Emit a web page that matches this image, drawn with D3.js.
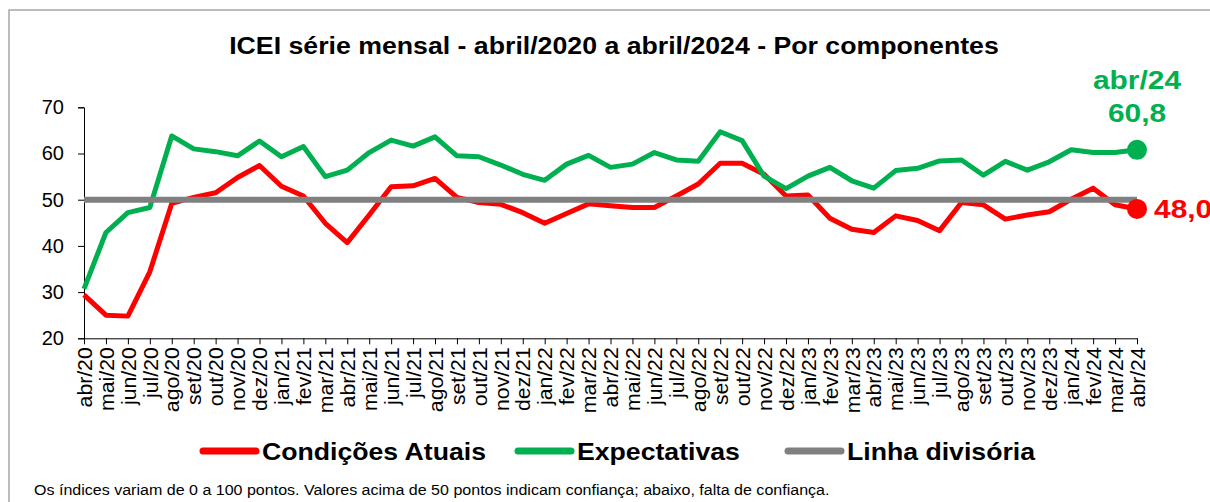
<!DOCTYPE html>
<html>
<head>
<meta charset="utf-8">
<script src="https://cdn.jsdelivr.net/npm/d3@7"></script>
<style>
  body { margin: 0; background: #fff; }
  svg { display: block; font-family: "Liberation Sans", Arial, sans-serif; }
</style>
</head>
<body>
<svg id="chart" width="1210" height="502"></svg>
<script>
const months = [
  "abr/20", "mai/20", "jun/20", "jul/20", "ago/20", "set/20", "out/20", "nov/20", "dez/20",
  "jan/21", "fev/21", "mar/21", "abr/21", "mai/21", "jun/21", "jul/21", "ago/21", "set/21", "out/21", "nov/21", "dez/21",
  "jan/22", "fev/22", "mar/22", "abr/22", "mai/22", "jun/22", "jul/22", "ago/22", "set/22", "out/22", "nov/22", "dez/22",
  "jan/23", "fev/23", "mar/23", "abr/23", "mai/23", "jun/23", "jul/23", "ago/23", "set/23", "out/23", "nov/23", "dez/23",
  "jan/24", "fev/24", "mar/24", "abr/24"
];

const condicoes = [
  29.4, 25.0, 24.8, 34.4, 49.2, 50.5, 51.5, 54.8, 57.4,
  52.9, 50.8, 44.9, 40.7, 46.7, 52.8, 53.0, 54.6, 50.5, 49.4, 49.0, 47.2,
  44.9, 47.0, 49.1, 48.7, 48.3, 48.3, 50.8, 53.4, 57.9, 57.9, 55.5, 50.8,
  51.0, 46.0, 43.6, 42.9, 46.5, 45.5, 43.3, 49.4, 48.9, 45.8, 46.7, 47.4,
  50.1, 52.5, 48.9, 48.0
];

const expectativas = [
  30.7, 42.9, 47.2, 48.3, 63.8, 61.0, 60.4, 59.5, 62.7,
  59.3, 61.5, 55.0, 56.4, 60.2, 62.9, 61.6, 63.6, 59.5, 59.3, 57.5, 55.5,
  54.2, 57.7, 59.6, 57.0, 57.7, 60.2, 58.6, 58.3, 64.7, 62.8, 55.1, 52.4,
  55.1, 57.0, 54.1, 52.5, 56.3, 56.8, 58.4, 58.6, 55.3, 58.3, 56.4, 58.2,
  60.8, 60.2, 60.2, 60.8
];

const divisoria = months.map(() => 50);

const yTicks = [20, 30, 40, 50, 60, 70];

const legendNames = ["Condições Atuais", "Expectativas", "Linha divisória"];
const colors = ["#ff0000", "#00b050", "#808080"];

const svg = d3.select("#chart");

// the original image is a bit wider than tall, so text is stretched sideways
function stretch(sel, f) {
  sel.each(function () {
    const w = this.getComputedTextLength();
    d3.select(this).attr("textLength", w * f).attr("lengthAdjust", "spacingAndGlyphs");
  });
  return sel;
}

// frame
svg.append("rect")
  .attr("x", 9).attr("y", 10)
  .attr("width", 1220).attr("height", 510)
  .attr("fill", "none")
  .attr("stroke", "#a6a6a6")
  .attr("stroke-width", 1.5);

svg.append("text")
  .attr("x", 614).attr("y", 54)
  .attr("text-anchor", "middle")
  .attr("font-size", 23)
  .attr("font-weight", "bold")
  .text("ICEI série mensal - abril/2020 a abril/2024 - Por componentes")
  .call(stretch, 1.16);

const x = d3.scalePoint()
  .domain(months)
  .range([84, 1137]);

const y = d3.scaleLinear()
  .domain([20, 70])
  .range([338.3, 107.3]);

// y axis
const yAxis = svg.append("g")
  .attr("transform", "translate(84,0)")
  .call(d3.axisLeft(y).tickValues(yTicks).tickSize(6).tickPadding(14));
yAxis.select(".domain").attr("stroke", "#000");
yAxis.selectAll("text").attr("font-size", 20).attr("font-family", "Liberation Sans, Arial, sans-serif").attr("fill", "#000");

// x axis
const xAxis = svg.append("g")
  .attr("transform", "translate(0,338.3)")
  .call(d3.axisBottom(x).tickSize(6).tickSizeOuter(0));
xAxis.select(".domain").attr("stroke", "#000");
xAxis.selectAll("text")
  .attr("font-size", 20)
  .attr("font-family", "Liberation Sans, Arial, sans-serif")
  .attr("fill", "#000")
  .attr("text-anchor", "end")
  .attr("transform", "rotate(-90)")
  .attr("x", -9)
  .attr("y", 0)
  .attr("dy", "0.36em")
  .call(stretch, 1.06);

const line = d3.line()
  .x((d, i) => x(months[i]))
  .y(d => y(d));

[condicoes, expectativas, divisoria].forEach((s, k) => {
  svg.append("path")
    .datum(s)
    .attr("fill", "none")
    .attr("stroke", colors[k])
    .attr("stroke-width", k == 2 ? 6 : 5)
    .attr("stroke-linejoin", "round")
    .attr("d", line);
});

// end markers
const last = months[months.length - 1];
svg.append("circle")
  .attr("cx", x(last)).attr("cy", y(expectativas[expectativas.length - 1]))
  .attr("r", 10).attr("fill", colors[1]);
svg.append("circle")
  .attr("cx", x(last)).attr("cy", y(condicoes[condicoes.length - 1]))
  .attr("r", 10).attr("fill", colors[0]);

const fmt = v => v.toFixed(1).replace(".", ",");

svg.append("text")
  .attr("x", x(last)).attr("y", 89)
  .attr("text-anchor", "middle")
  .attr("font-size", 26).attr("font-weight", "bold")
  .attr("fill", colors[1])
  .text(last)
  .call(stretch, 1.15);
svg.append("text")
  .attr("x", x(last)).attr("y", 122)
  .attr("text-anchor", "middle")
  .attr("font-size", 26).attr("font-weight", "bold")
  .attr("fill", colors[1])
  .text(fmt(expectativas[expectativas.length - 1]))
  .call(stretch, 1.15);
svg.append("text")
  .attr("x", x(last) + 17).attr("y", y(condicoes[condicoes.length - 1]) + 9)
  .attr("font-size", 26).attr("font-weight", "bold")
  .attr("fill", colors[0])
  .text(fmt(condicoes[condicoes.length - 1]))
  .call(stretch, 1.15);

// legend
const legendX = [201, 516, 786];
legendNames.forEach((name, k) => {
  const g = svg.append("g").attr("transform", "translate(" + legendX[k] + ",451)");
  g.append("line")
    .attr("x1", 2).attr("x2", 55)
    .attr("stroke", colors[k])
    .attr("stroke-width", 7)
    .attr("stroke-linecap", "round");
  g.append("text")
    .attr("x", 61).attr("y", 9)
    .attr("font-size", 24).attr("font-weight", "bold")
    .text(name)
    .call(stretch, 1.11);
});

svg.append("text")
  .attr("x", 34).attr("y", 495)
  .attr("font-size", 14)
  .text("Os índices variam de 0 a 100 pontos. Valores acima de 50 pontos indicam confiança; abaixo, falta de confiança.")
  .call(stretch, 1.145);
</script>
</body>
</html>
